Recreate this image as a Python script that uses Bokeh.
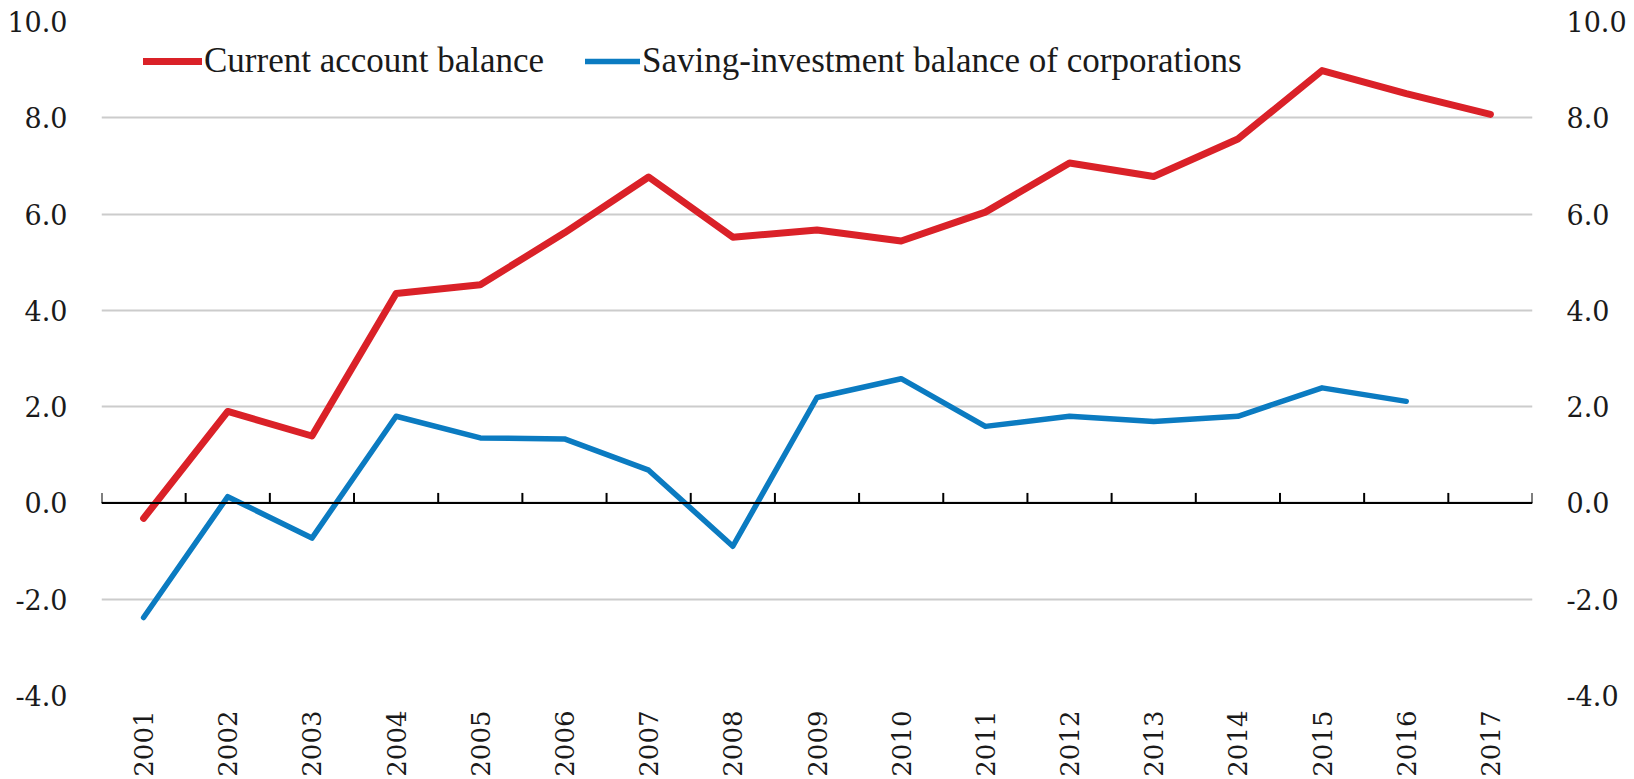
import numpy as np
from bokeh.plotting import figure
from bokeh.models import (Range1d, LinearAxis, FixedTicker, PrintfTickFormatter,
                          Legend, LegendItem, Span)
from bokeh.embed import file_html
from bokeh.resources import INLINE

years = [str(y) for y in range(2001, 2018)]
current_account = [-0.32, 1.90, 1.39, 4.35, 4.53, 5.61, 6.77, 5.52, 5.67, 5.44,
                   6.04, 7.06, 6.78, 7.56, 8.98, 8.50, 8.07]
saving_investment = [-2.38, 0.13, -0.73, 1.80, 1.35, 1.33, 0.68, -0.90, 2.19, 2.58,
                     1.59, 1.80, 1.69, 1.80, 2.39, 2.11]
y_ticks = [-4, -2, 0, 2, 4, 6, 8, 10]
series_names = ["Current account balance", "Saving-investment balance of corporations"]

RED = "#DA2128"
BLUE = "#0B7BC1"
TXT = "#1a1a1a"
AXIS_FONT = "DejaVu Serif"

n = len(years)
x_all = np.arange(n)

p = figure(width=1634, height=779, output_backend="svg", toolbar_location=None,
           x_range=Range1d(-0.5, n - 0.5), y_range=Range1d(min(y_ticks), max(y_ticks)),
           min_border_left=101, min_border_right=102, min_border_top=21,
           min_border_bottom=83, y_axis_location=None)
p.outline_line_color = None
p.background_fill_color = "white"
p.border_fill_color = "white"

# grid
p.xgrid.grid_line_color = None
p.ygrid.ticker = FixedTicker(ticks=y_ticks)
p.ygrid.grid_line_color = "#CCCCCC"
p.ygrid.grid_line_width = 2

# bottom category labels
xa = p.xaxis[0]
xa.ticker = FixedTicker(ticks=list(x_all))
xa.major_label_overrides = {int(i): years[i] for i in range(n)}
xa.major_label_orientation = np.pi / 2
xa.axis_line_color = None
xa.major_tick_line_color = None
xa.minor_tick_line_color = None
xa.major_label_standoff = 9
xa.major_label_text_font = AXIS_FONT
xa.major_label_text_font_size = "26px"
xa.major_label_text_color = TXT

for side in ("left", "right"):
    ax = LinearAxis(ticker=FixedTicker(ticks=y_ticks),
                    formatter=PrintfTickFormatter(format="%.1f"))
    ax.axis_line_color = None
    ax.major_tick_line_color = None
    ax.minor_tick_line_color = None
    ax.major_label_standoff = 28
    ax.major_label_text_font = AXIS_FONT
    ax.major_label_text_font_size = "27px"
    ax.major_label_text_color = TXT
    p.add_layout(ax, side)

# zero line with upward tick marks at category boundaries
p.add_layout(Span(location=0, dimension="width", line_color="black", line_width=2))
bounds = np.arange(n + 1) - 0.5
p.ray(x=bounds, y=[0] * len(bounds), length=10, length_units="screen",
      angle=np.pi / 2, line_color="black", line_width=2)

r1 = p.line(x_all, current_account, line_color=RED, line_width=7,
            line_cap="round", line_join="round")
r2 = p.line(x_all[:len(saving_investment)], saving_investment, line_color=BLUE,
            line_width=5.5, line_cap="round", line_join="round")

common = dict(glyph_height=30, label_height=30, label_standoff=2, padding=0,
              margin=0, spacing=0, border_line_color=None, background_fill_alpha=0,
              label_text_font="Liberation Serif", label_text_font_size="35px",
              label_text_color=TXT)
leg1 = Legend(items=[LegendItem(label=series_names[0], renderers=[r1])],
              location=(42, 614), glyph_width=59, **common)
leg2 = Legend(items=[LegendItem(label=series_names[1], renderers=[r2])],
              location=(484, 614), glyph_width=55, **common)
p.add_layout(leg1, "center")
p.add_layout(leg2, "center")

open("out.html", "w").write(file_html(p, INLINE))
